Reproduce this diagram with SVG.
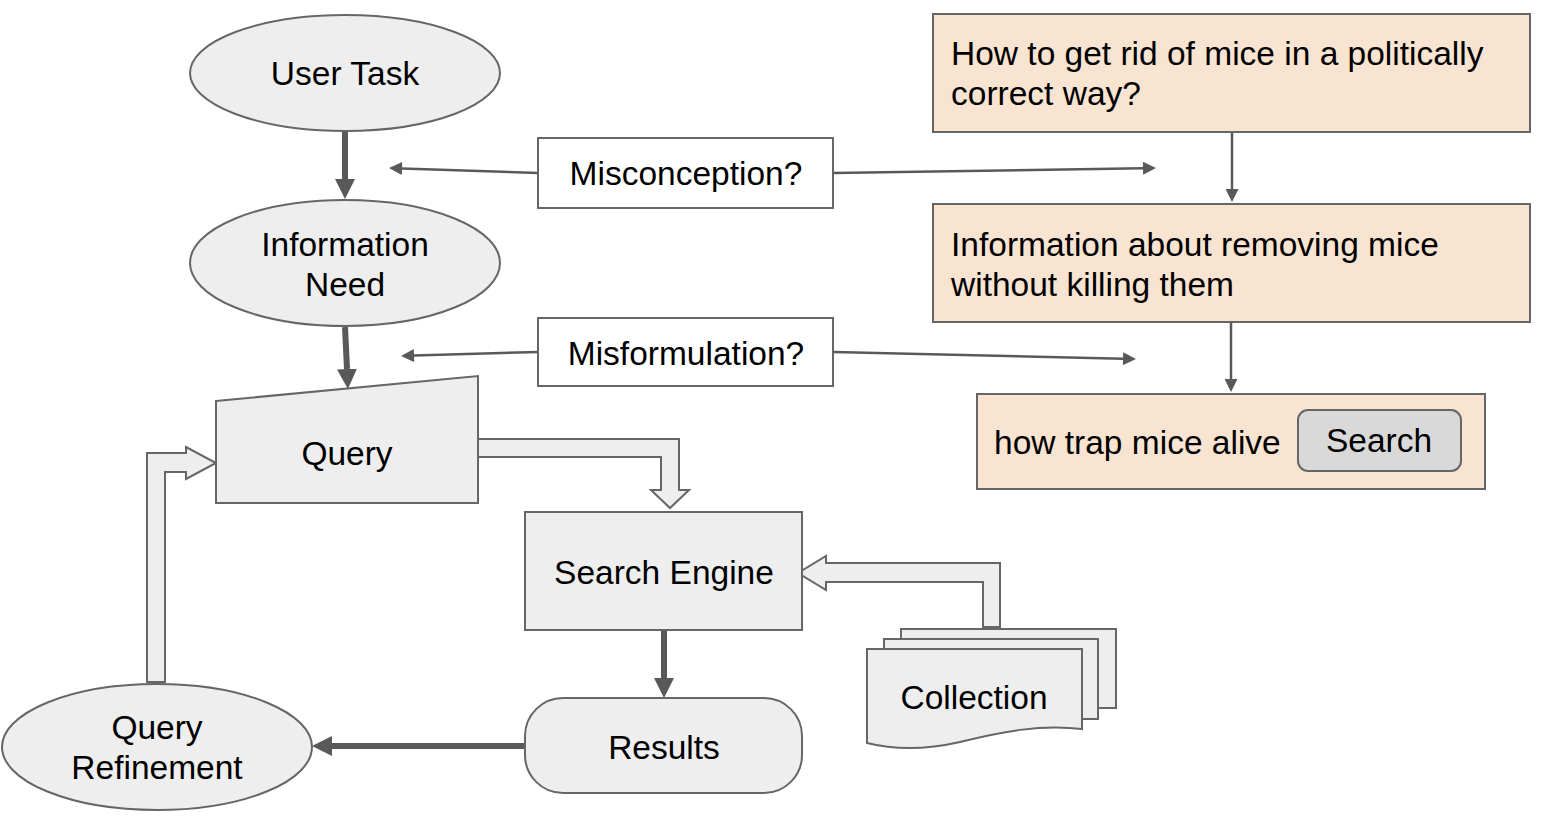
<svg xmlns="http://www.w3.org/2000/svg" width="1546" height="818" viewBox="0 0 1546 818">
<defs>
<style>
text{font-family:"Liberation Sans",Arial,sans-serif;font-size:33.5px;fill:#000}
.c{text-anchor:middle}
.n{fill:#eeeeee;stroke:#666666;stroke-width:2}
.o{fill:#f8e4d0;stroke:#666666;stroke-width:2}
.w{fill:#ffffff;stroke:#666666;stroke-width:2}
.btn{fill:#d9d9d9;stroke:#666666;stroke-width:2}
.thick{fill:none;stroke:#595959;stroke-width:6}
.thin{fill:none;stroke:#595959;stroke-width:2.5}
.hollow{fill:#eeeeee;stroke:#666666;stroke-width:2;stroke-linejoin:miter}
</style>
<marker id="ahT" viewBox="0 0 10 10" refX="0" refY="5" markerWidth="20" markerHeight="21" markerUnits="userSpaceOnUse" orient="auto">
<path d="M0,0 L10,5 L0,10 z" fill="#595959"/>
</marker>
<marker id="ahS" viewBox="0 0 10 10" refX="0" refY="5" markerWidth="14" markerHeight="13" markerUnits="userSpaceOnUse" orient="auto">
<path d="M0,0 L10,5 L0,10 z" fill="#595959"/>
</marker>
</defs>
<rect width="1546" height="818" fill="#ffffff"/>

<g id="connectors">
<line class="thick" x1="345" y1="131" x2="345" y2="179" marker-end="url(#ahT)"/>
<line class="thick" x1="345" y1="327" x2="347" y2="369" marker-end="url(#ahT)"/>
<line class="thick" x1="664" y1="630" x2="664" y2="678" marker-end="url(#ahT)"/>
<line class="thick" x1="525" y1="746" x2="332" y2="746" marker-end="url(#ahT)"/>
<line class="thin" x1="538" y1="173" x2="402" y2="168.5" marker-end="url(#ahS)"/>
<line class="thin" x1="833" y1="173" x2="1143" y2="168.2" marker-end="url(#ahS)"/>
<line class="thin" x1="538" y1="352" x2="414" y2="355.6" marker-end="url(#ahS)"/>
<line class="thin" x1="833" y1="352" x2="1123" y2="358.7" marker-end="url(#ahS)"/>
<line class="thin" x1="1232" y1="132" x2="1232" y2="189" marker-end="url(#ahS)"/>
<line class="thin" x1="1231" y1="322" x2="1231" y2="379" marker-end="url(#ahS)"/>
<path class="hollow" d="M478,439 L679,439 L679,490 L689,490 L670,508 L651,490 L661,490 L661,457 L478,457 Z"/>
<path class="hollow" d="M1000,627 L1000,563 L826,563 L826,556 L798,573 L826,590 L826,582 L983,582 L983,627 Z"/>
<path class="hollow" d="M147,682 L147,453 L186,453 L186,447 L216,463 L186,479 L186,472 L165,472 L165,682 Z"/>
</g>

<g id="user-task">
<ellipse class="n" cx="345" cy="73" rx="155" ry="58"/>
<text class="c" x="345" y="85">User Task</text>
</g>
<g id="information-need">
<ellipse class="n" cx="345" cy="263" rx="155" ry="63"/>
<text class="c" x="345" y="256">Information</text>
<text class="c" x="345" y="296">Need</text>
</g>
<g id="misconception">
<rect class="w" x="538" y="138" width="295" height="70"/>
<text class="c" x="686" y="185">Misconception?</text>
</g>
<g id="misformulation">
<rect class="w" x="538" y="318" width="295" height="68"/>
<text class="c" x="686" y="365">Misformulation?</text>
</g>
<g id="query">
<path class="n" d="M216,401 L478,376 L478,503 L216,503 Z"/>
<text class="c" x="347" y="465">Query</text>
</g>
<g id="search-engine">
<rect class="n" x="525" y="512" width="277" height="118"/>
<text class="c" x="664" y="584">Search Engine</text>
</g>
<g id="results">
<rect class="n" x="525" y="698" width="277" height="95" rx="38" ry="38"/>
<text class="c" x="664" y="759">Results</text>
</g>
<g id="query-refinement">
<ellipse class="n" cx="157" cy="747" rx="155" ry="63"/>
<text class="c" x="157" y="739">Query</text>
<text class="c" x="157" y="779">Refinement</text>
</g>
<g id="collection">
<rect class="n" x="901" y="629" width="215" height="79"/>
<rect class="n" x="884" y="639" width="214" height="80"/>
<path class="n" d="M867,649 L1082,649 L1082,729 C1040,724 1000,732 960,742 C925,750 895,750 867,743 Z"/>
<text class="c" x="974" y="709">Collection</text>
</g>
<g id="task-example">
<rect class="o" x="933" y="14" width="597" height="118"/>
<text x="951" y="65">How to get rid of mice in a politically</text>
<text x="951" y="105">correct way?</text>
</g>
<g id="need-example">
<rect class="o" x="933" y="204" width="597" height="118"/>
<text x="951" y="256">Information about removing mice</text>
<text x="951" y="296">without killing them</text>
</g>
<g id="query-example">
<rect class="o" x="977" y="394" width="508" height="95"/>
<text x="994" y="454">how trap mice alive</text>
<g id="search-button">
<rect class="btn" x="1298" y="410" width="163" height="61" rx="10" ry="10"/>
<text class="c" x="1379" y="452">Search</text>
</g>
</g>
</svg>
